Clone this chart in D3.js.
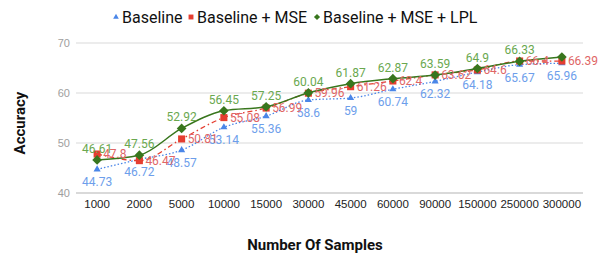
<!DOCTYPE html>
<html>
<head>
<meta charset="utf-8">
<script src="https://cdn.jsdelivr.net/npm/d3@7"></script>
<style>
  body { margin: 0; background: #fff; }
  svg { font-family: Roboto, "Noto Sans", sans-serif; }
</style>
</head>
<body>
<svg id="chart"></svg>
<script>
var width = 599
var height = 256

var samples = ["1000", "2000", "5000", "10000", "15000", "30000", "45000", "60000", "90000", "150000", "250000", "300000"]
var baseline = [44.73, 46.72, 48.57, 53.14, 55.36, 58.6, 59, 60.74, 62.32, 64.18, 65.67, 65.96]
var baselineMse = [47.8, 46.47, 50.81, 55.08, 56.99, 59.96, 61.26, 62.4, 63.62, 64.6, 66.4, 66.39]
var baselineMseLpl = [46.61, 47.56, 52.92, 56.45, 57.25, 60.04, 61.87, 62.87, 63.59, 64.9, 66.33, 67.2]
var yTicks = [40, 50, 60, 70]

// google-ish chart hides the last green label (overlap)
var hiddenLpl = [11]

var series = [
  { name: "Baseline", values: baseline, color: "#4a86e8", text: "#6d9eeb", dash: "1.5,2", marker: "triangle", pos: "below" },
  { name: "Baseline + MSE", values: baselineMse, color: "#e53e30", text: "#e06666", dash: "5,3,1.5,3", marker: "square", pos: "right" },
  { name: "Baseline + MSE + LPL", values: baselineMseLpl, color: "#38761d", text: "#6aa84f", dash: null, marker: "diamond", pos: "above" }
]

var margin = { left: 76, right: 16, top: 43, bottom: 63 }

var x = d3.scaleBand()
  .domain(samples)
  .range([margin.left, width - margin.right])

var y = d3.scaleLinear()
  .domain([40, 70])
  .range([height - margin.bottom, margin.top])

var svg = d3.select("#chart")
  .attr("width", width)
  .attr("height", height)

// grid
svg.append("g")
  .selectAll("line")
  .data(yTicks)
  .enter()
    .append("line")
    .attr("x1", margin.left)
    .attr("x2", width - margin.right)
    .attr("y1", d => y(d))
    .attr("y2", d => y(d))
    .attr("stroke", d => d == 40 ? "#cccccc" : "#d9d9d9")
    .attr("stroke-width", d => d == 40 ? 1.5 : 1)

var yAxis = d3.axisLeft(y).tickValues(yTicks).tickSize(0).tickPadding(6)
svg.append("g")
  .attr("transform", "translate(" + margin.left + ",0)")
  .call(yAxis)
  .call(g => g.select(".domain").remove())
  .selectAll("text")
    .attr("fill", "#9e9e9e")
    .style("font-size", "11px")

var xAxis = d3.axisBottom(x).tickSize(0).tickPadding(7)
svg.append("g")
  .attr("transform", "translate(0," + y(40) + ")")
  .call(xAxis)
  .call(g => g.select(".domain").remove())
  .selectAll("text")
    .attr("fill", "#222")
    .style("font-size", "11.5px")

// axis titles
svg.append("text")
  .attr("x", 315)
  .attr("y", 250)
  .attr("text-anchor", "middle")
  .style("font-size", "15px")
  .style("font-weight", "bold")
  .attr("fill", "#111")
  .text("Number Of Samples")

svg.append("text")
  .attr("transform", "translate(25,123) rotate(-90)")
  .attr("text-anchor", "middle")
  .style("font-size", "15px")
  .style("font-weight", "bold")
  .attr("fill", "#111")
  .text("Accuracy")

var cx = d => x(d) + x.bandwidth() / 2

function markerPath(type, size) {
  if (type == "triangle") return d3.symbol(d3.symbolTriangle, size)()
  if (type == "square") return d3.symbol(d3.symbolSquare, size)()
  return d3.symbol(d3.symbolDiamond2, size)()
}

var line = d3.line()
  .x((d, i) => cx(samples[i]))
  .y(d => y(d))
  .curve(d3.curveMonotoneX)

series.forEach(function (s) {
  var g = svg.append("g")

  g.append("path")
    .datum(s.values)
    .attr("d", line)
    .attr("fill", "none")
    .attr("stroke", s.color)
    .attr("stroke-width", s.dash ? 1.3 : 1.5)
    .attr("stroke-dasharray", s.dash)

  g.selectAll("path.pt")
    .data(s.values)
    .enter()
      .append("path")
      .attr("class", "pt")
      .attr("d", markerPath(s.marker, s.marker == "triangle" ? 22 : s.marker == "square" ? 50 : 60))
      .attr("transform", (d, i) => "translate(" + cx(samples[i]) + "," + y(d) + ")")
      .attr("fill", s.color)
})

// value labels drawn after all lines
series.forEach(function (s) {
  svg.append("g")
    .selectAll("text")
    .data(s.values)
    .enter()
      .filter((d, i) => !(s.pos == "above" && hiddenLpl.indexOf(i) >= 0))
      .append("text")
      .attr("x", (d, i) => cx(samples[i]) + (s.pos == "right" ? 6 : 0))
      .attr("y", d => y(d) + (s.pos == "above" ? -7 : s.pos == "below" ? 17 : 4))
      .attr("text-anchor", s.pos == "right" ? "start" : "middle")
      .attr("fill", s.text)
      .style("font-size", "12px")
      .text(d => d)
})

// legend
var legendX = [116, 191, 317]
var legend = svg.append("g")
series.forEach(function (s, i) {
  legend.append("path")
    .attr("d", markerPath(s.marker, s.marker == "triangle" ? 14 : s.marker == "square" ? 24 : 24))
    .attr("transform", "translate(" + legendX[i] + ",17)")
    .attr("fill", s.color)
  legend.append("text")
    .attr("x", legendX[i] + 6)
    .attr("y", 23)
    .style("font-size", "16px")
    .attr("fill", "#111")
    .text(s.name)
})
</script>
</body>
</html>
